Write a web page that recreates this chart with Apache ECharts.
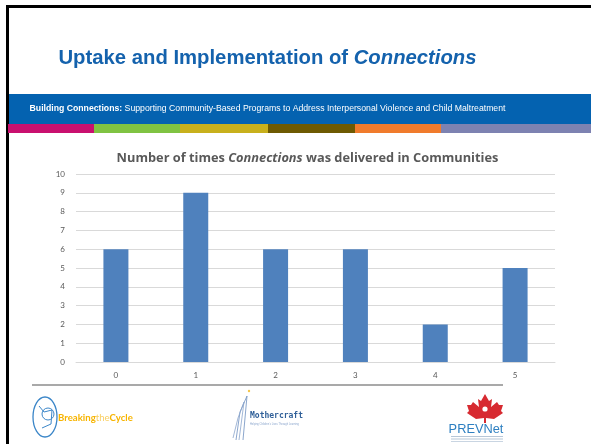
<!DOCTYPE html>
<html>
<head>
<meta charset="utf-8">
<script src="https://cdn.jsdelivr.net/npm/echarts@6/dist/echarts.min.js"></script>
<style>
  html, body { margin: 0; padding: 0; background: #fff; }
  #main { width: 591px; height: 444px; }
</style>
</head>
<body>
<div id="main"></div>
<script>
// data
var categories = ['0', '1', '2', '3', '4', '5']
var deliveries = [6, 9, 6, 6, 2, 5]
var yMin = 0
var yMax = 10
var yStep = 1

var chart = echarts.init(document.getElementById('main'), null, { renderer: 'canvas' })

// coloured stripe under the banner
var stripes = [
  { x: 8, w: 86, c: '#c9106f' },
  { x: 94, w: 86, c: '#80c342' },
  { x: 180, w: 88, c: '#c8b01c' },
  { x: 268, w: 87, c: '#6e5a02' },
  { x: 355, w: 86, c: '#f07b2c' },
  { x: 441, w: 150, c: '#7d82b1' }
]

var graphics = [
  // slide frame
  { type: 'rect', shape: { x: 6, y: 5, width: 600, height: 3 }, style: { fill: '#000' } },
  { type: 'rect', shape: { x: 6, y: 5, width: 3, height: 450 }, style: { fill: '#000' } },
  // banner
  { type: 'rect', shape: { x: 9, y: 94, width: 582, height: 30 }, style: { fill: '#0462b0' } },
  {
    type: 'text', x: 267.5, y: 109,
    style: {
      text: '{b|Building Connections:} Supporting Community-Based Programs to Address Interpersonal Violence and Child Maltreatment',
      align: 'center', verticalAlign: 'middle',
      fill: '#fff', font: '8.7px "Liberation Sans", Arial, sans-serif',
      rich: { b: { fontWeight: 'bold', fontSize: 8.7, fontFamily: '"Liberation Sans", Arial, sans-serif', fill: '#fff' } }
    }
  },
  // footer separator
  { type: 'rect', shape: { x: 32, y: 384, width: 471, height: 2 }, style: { fill: '#a9a9a9' } },

  // Breaking the Cycle logo
  { type: 'ellipse', shape: { cx: 45, cy: 417, rx: 12, ry: 20 }, style: { fill: 'none', stroke: '#3b86c8', lineWidth: 1.3 } },
  { type: 'circle', shape: { cx: 48, cy: 414, r: 6 }, style: { fill: 'none', stroke: '#3b86c8', lineWidth: 1 } },
  { type: 'polyline', shape: { points: [[39, 406], [44, 412], [52, 410], [51, 424], [42, 428]] }, style: { fill: 'none', stroke: '#3b86c8', lineWidth: 1 } },
  {
    type: 'text', x: 58, y: 418,
    style: {
      text: '{a|Breaking}{b|the}{a|Cycle}',
      verticalAlign: 'middle',
      rich: {
        a: { fontWeight: 'bold', fontSize: 9.6, fontFamily: 'Lato, sans-serif', fill: '#f7b400' },
        b: { fontSize: 9.6, fontFamily: 'Lato, sans-serif', fill: '#f9cf63' }
      }
    }
  },

  // Mothercraft logo
  { type: 'polyline', shape: { points: [[236, 440], [240, 412], [247, 396], [245, 418], [243, 440]] }, style: { fill: 'none', stroke: '#6d8fbf', lineWidth: 0.8 } },
  { type: 'polyline', shape: { points: [[233, 438], [238, 418], [244, 402], [241, 425], [239, 440]] }, style: { fill: 'none', stroke: '#8aa5cc', lineWidth: 0.8 } },
  { type: 'circle', shape: { cx: 249, cy: 391, r: 1.2 }, style: { fill: '#f4c64a' } },
  {
    type: 'text', x: 250, y: 416,
    style: { text: 'Mothercraft', verticalAlign: 'middle', fill: '#2f5f98', font: 'bold 8px "DejaVu Sans Mono", monospace' }
  },
  {
    type: 'text', x: 250, y: 424.5,
    style: { text: 'Helping Children\u2019s Lives Through Learning', verticalAlign: 'middle', fill: '#8aa5cc', font: '2.6px sans-serif' }
  },

  // PREVNet logo
  {
    type: 'polygon',
    shape: {
      points: [[485, 394], [489, 401], [492, 399], [491, 407], [497, 402], [499, 405], [503, 405],
        [501, 411], [503, 413], [494, 419], [486, 418], [486, 423], [484, 423], [484, 418],
        [476, 419], [467, 413], [469, 411], [467, 405], [471, 405], [473, 402], [479, 407],
        [478, 399], [481, 401]]
    },
    style: { fill: '#d72a31' }
  },
  { type: 'circle', shape: { cx: 485, cy: 409, r: 2.6 }, style: { fill: '#fff' } },
  {
    type: 'text', x: 476, y: 429,
    style: { text: 'PREVNet', align: 'center', verticalAlign: 'middle', fill: '#2d7fc1', font: '12.8px "Liberation Sans", Arial, sans-serif' }
  },
  { type: 'rect', shape: { x: 451, y: 436, width: 52, height: 1 }, style: { fill: '#b7c7d8' } },
  { type: 'rect', shape: { x: 451, y: 438.5, width: 52, height: 1 }, style: { fill: '#b7c7d8' } },
  { type: 'rect', shape: { x: 451, y: 441, width: 52, height: 1 }, style: { fill: '#c9d5e2' } }
]

stripes.forEach(function(s) {
  graphics.push({ type: 'rect', shape: { x: s.x, y: 124, width: s.w, height: 9 }, style: { fill: s.c } })
})

chart.setOption({
  animation: false,
  title: [{
    text: '{a|Uptake and Implementation of }{b|Connections}',
    left: 262.5,
    top: 43,
    textAlign: 'center',
    textStyle: {
      rich: {
        a: { fontSize: 20.3, fontWeight: 'bold', fontFamily: '"Liberation Sans", Arial, sans-serif', color: '#1462ad' },
        b: { fontSize: 20.3, fontWeight: 'bold', fontStyle: 'italic', fontFamily: '"Liberation Sans", Arial, sans-serif', color: '#1462ad' }
      }
    }
  }, {
    text: '{a|Number of times }{b|Connections}{a| was delivered in Communities}',
    left: 302.5,
    top: 147,
    textAlign: 'center',
    textStyle: {
      rich: {
        a: { fontSize: 12.8, fontWeight: 'bold', fontFamily: '"Open Sans", sans-serif', color: '#595959' },
        b: { fontSize: 12.8, fontWeight: 'bold', fontStyle: 'italic', fontFamily: '"Open Sans", sans-serif', color: '#595959' }
      }
    }
  }],
  graphic: graphics,
  grid: {
    left: 76,
    right: 36,
    top: 174,
    bottom: 82,
    containLabel: false
  },
  xAxis: {
    type: 'category',
    data: categories,
    axisTick: { show: false },
    axisLine: { lineStyle: { color: '#d9d9d9', width: 1 } },
    axisLabel: { color: '#595959', fontSize: 8, margin: 9, fontFamily: 'Lato, sans-serif' }
  },
  yAxis: {
    type: 'value',
    min: yMin,
    max: yMax,
    interval: yStep,
    axisLine: { show: false },
    axisTick: { show: false },
    axisLabel: { color: '#595959', fontSize: 8, margin: 11, fontFamily: 'Lato, sans-serif' },
    splitLine: { lineStyle: { color: '#d9d9d9', width: 1 } }
  },
  series: [{
    type: 'bar',
    data: deliveries,
    barWidth: 25,
    itemStyle: { color: '#4f81bd' }
  }]
})
</script>
</body>
</html>
